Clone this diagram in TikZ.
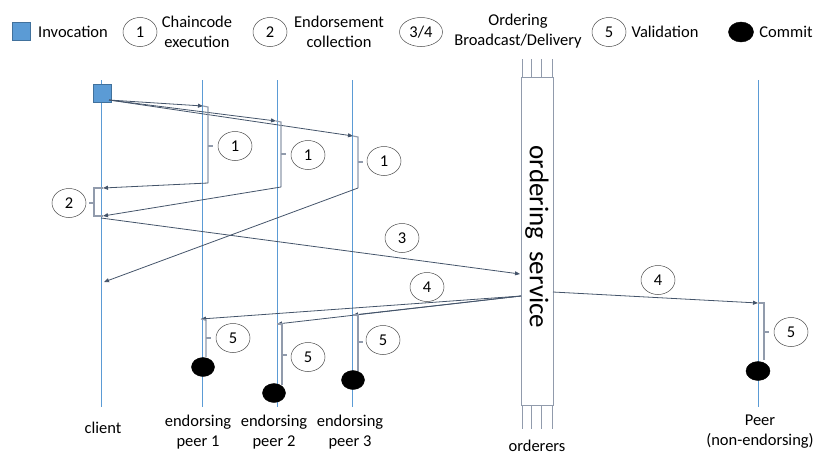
\documentclass[tikz,border=0pt]{standalone}
\usepackage{fontspec}
\setmainfont{Carlito}
\usetikzlibrary{shapes.geometric,arrows.meta,positioning,calc}
\definecolor{lifeblue}{RGB}{91,155,213}
\definecolor{invblue}{RGB}{91,155,213}
\definecolor{invedge}{RGB}{65,113,156}
\definecolor{msgslate}{RGB}{68,84,106}
\definecolor{brkgrey}{RGB}{145,155,172}

\begin{document}
\begin{tikzpicture}[x=1pt,y=-1pt,
  life/.style={draw=lifeblue,line width=0.8pt},
  msg/.style={-{Triangle[width=4pt,length=5pt]},draw=msgslate,line width=0.8pt},
  brk/.style={draw=brkgrey,line width=1.1pt},
  num/.style={ellipse,draw=black!70,line width=0.5pt,minimum width=34pt,
              minimum height=29pt,inner sep=0pt,font=\fontsize{16.5}{19}\selectfont},
  txt/.style={font=\fontsize{16.5}{20}\selectfont,align=center,inner sep=0pt},
  commit/.style={ellipse,fill=black,draw=black,minimum width=23pt,
                 minimum height=19pt,inner sep=0pt},
  inv/.style={draw=invedge,fill=invblue,minimum size=18pt,inner sep=0pt}
]
\useasboundingbox (0,0) rectangle (830,467);

% legend
\node[inv] (lgInv) at (21,31) {};
\node[txt] (lgInvT) at (73,32) {Invocation};
\node[num] (lgOne) at (140,32) {1};
\node[txt] (lgOneT) at (197,32) {Chaincode\\execution};
\node[num] (lgTwo) at (270,32) {2};
\node[txt] (lgTwoT) at (339,32) {Endorsement\\collection};
\node[num,minimum width=43pt] (lgOrd) at (421,32) {3/4};
\node[txt] (lgOrdT) at (518,31) {Ordering\\Broadcast/Delivery};
\node[num] (lgFive) at (609,32) {5};
\node[txt] (lgFiveT) at (665,32) {Validation};
\node[commit,minimum width=25pt,minimum height=20pt] (lgCom) at (741,32) {};
\node[txt] (lgComT) at (786,32) {Commit};

% lifelines
\foreach \n/\x in {cl/101,pa/202,pb/277,pc/352,pn/758}{
  \coordinate (\n-top) at (\x,80);
  \coordinate (\n-bot) at (\x,407);
  \draw[life] (\n-top) -- (\n-bot);
}

% ordering service
\node[draw=brkgrey,line width=0.9pt,minimum width=32pt,minimum height=328pt,
      inner sep=0pt] (ord) at (537,241.5) {};
\node[rotate=-90,font=\fontsize{27}{30}\selectfont] (ordT) at (537,237)
  {ordering\ \ service};
\foreach \x in {522,531.5,541,552}{
  \draw[brkgrey,line width=0.9pt] (\x,59) -- (\x,77);
  \draw[brkgrey,line width=0.9pt] (\x,406) -- (\x,429);
}

% invocation
\node[inv] (inv) at (102,93) {};
\coordinate (src) at (109,100);

% 1: chaincode execution
\coordinate (pa-in) at (203,106);
\coordinate (pa-bt) at (208,107);
\coordinate (pa-bb) at (208,183);
\coordinate (pb-in) at (276,121);
\coordinate (pb-bt) at (281,122);
\coordinate (pb-bb) at (281,187);
\coordinate (pc-in) at (353,136);
\coordinate (pc-bt) at (358,137);
\coordinate (pc-bb) at (358,188);
\draw[msg] (src) -- (pa-in);
\draw[msg] (src) -- (pb-in);
\draw[msg] (src) -- (pc-in);
\draw[brk] (pa-in) -- (pa-bt) -- (pa-bb);
\draw[brk] (pb-in) -- (pb-bt) -- (pb-bb);
\draw[brk] (pc-in) -- (pc-bt) -- (pc-bb);
\draw[brk] (208,146) -- ++(5,0);
\draw[brk] (281,154) -- ++(5,0);
\draw[brk] (358,162) -- ++(5,0);
\node[num] (exA) at (235,146) {1};
\node[num] (exB) at (308,155) {1};
\node[num] (exC) at (384,161) {1};

% 2: endorsement collection
\coordinate (cl-r1) at (103,188);
\coordinate (cl-r2) at (103,216);
\coordinate (cl-r3) at (104,282);
\draw[msg] (pa-bb) -- (cl-r1);
\draw[msg] (pb-bb) -- (cl-r2);
\draw[msg] (pc-bb) -- (cl-r3);
\draw[brk] (cl-r1) -- (94,188) -- (94,216) -- (cl-r2);
\draw[brk] (94,203) -- ++(-5,0);
\node[num] (col) at (69,203) {2};

% 3: broadcast
\coordinate (cl-out) at (101,218);
\coordinate (ord-in) at (520,274);
\draw[msg] (cl-out) -- (ord-in);
\node[num] (bc) at (402,238) {3};

% 4: delivery
\coordinate (ord-l) at (521,296);
\coordinate (ord-r) at (553,292);
\coordinate (pa-dl) at (201,319);
\coordinate (pb-dl) at (277,324);
\coordinate (pc-dl) at (353,315);
\coordinate (pn-dl) at (758,303);
\draw[msg] (ord-l) -- (pa-dl);
\draw[msg] (ord-l) -- (pb-dl);
\draw[msg] (ord-l) -- (pc-dl);
\draw[msg] (ord-r) -- (pn-dl);
\node[num] (dlL) at (427,287) {4};
\node[num] (dlR) at (658,280) {4};

% 5: validation and commit
\node[commit] (cmA) at (203,367) {};
\node[commit] (cmB) at (274,393) {};
\node[commit] (cmC) at (353,380) {};
\node[commit,minimum width=24pt] (cmN) at (758,371) {};
\draw[brk] (pa-dl) -- (206,320) -- (206,357);
\draw[brk] (pb-dl) -- (282,324) -- (282,385);
\draw[brk] (pc-dl) -- (358,315) -- (358,371);
\draw[brk] (pn-dl) -- (764,303) -- (764,360);
\draw[brk] (206,338) -- ++(5,0);
\draw[brk] (282,355) -- ++(5,0);
\draw[brk] (358,342) -- ++(5,0);
\draw[brk] (764,332) -- ++(5,0);
\node[num] (vaA) at (233,338) {5};
\node[num] (vaB) at (308,357) {5};
\node[num] (vaC) at (383,340) {5};
\node[num] (vaN) at (791,332) {5};

% participants
\node[txt] (client) at (103,428) {client};
\node[txt] (epA) at (198,432) {endorsing\\peer 1};
\node[txt] (epB) at (274,432) {endorsing\\peer 2};
\node[txt] (epC) at (350,432) {endorsing\\peer 3};
\node[txt] (orderers) at (537,446) {orderers};
\node[txt] (peerN) at (760,432) {Peer\\(non-endorsing)};
\end{tikzpicture}
\end{document}
